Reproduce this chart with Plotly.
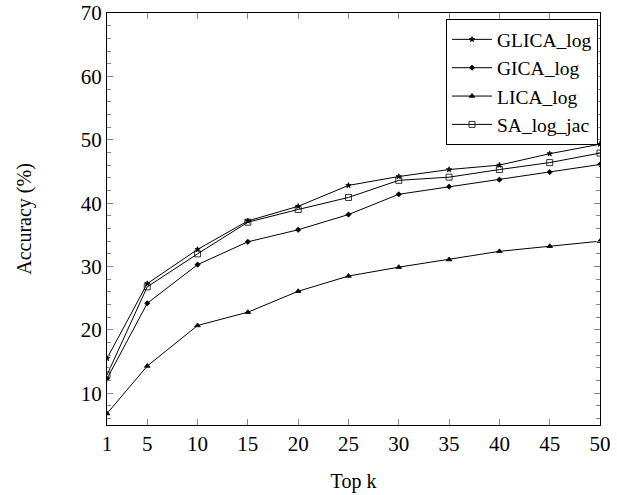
import plotly.graph_objects as go

top_k = [1, 5, 10, 15, 20, 25, 30, 35, 40, 45, 50]
glica_log = [15.5, 27.3, 32.7, 37.2, 39.5, 42.8, 44.2, 45.3, 46.0, 47.8, 49.3]
gica_log = [12.3, 24.2, 30.3, 33.9, 35.8, 38.2, 41.4, 42.6, 43.7, 44.9, 46.1]
lica_log = [6.8, 14.3, 20.7, 22.8, 26.1, 28.5, 29.9, 31.1, 32.4, 33.2, 34.0]
sa_log_jac = [12.9, 26.8, 32.0, 37.0, 39.0, 40.9, 43.6, 44.1, 45.3, 46.4, 47.9]

series = [
    ("GLICA_log", glica_log, "star", 4),
    ("GICA_log", gica_log, "diamond", 4),
    ("LICA_log", lica_log, "triangle-up", 5),
    ("SA_log_jac", sa_log_jac, "square-open", 6),
]

fig = go.Figure()
for name, vals, sym, sz in series:
    fig.add_trace(go.Scatter(
        x=top_k, y=vals, name=name, mode="lines+markers",
        line=dict(color="black", width=1),
        marker=dict(symbol=sym, size=sz, color="black",
                    line=dict(color="black", width=0.8)),
    ))

font_family = "Liberation Serif, Times New Roman, serif"
fig.update_layout(
    width=617, height=495,
    margin=dict(l=107, r=17, t=13, b=70, autoexpand=False),
    paper_bgcolor="white", plot_bgcolor="white",
    font=dict(family=font_family, size=20, color="black"),
    legend=dict(x=0.996, y=0.985, xanchor="right", yanchor="top",
                bordercolor="black", borderwidth=1, bgcolor="white",
                font=dict(size=19.5), tracegroupgap=0, itemwidth=40),
    showlegend=True,
)
fig.update_xaxes(
    range=[1, 50], tickvals=top_k, ticktext=[str(v) for v in top_k],
    showline=True, linecolor="black", linewidth=1, mirror="ticks",
    ticks="inside", ticklen=6, tickcolor="#888", showgrid=False, zeroline=False,
    tickfont=dict(size=21), automargin=False,
    title=dict(text="Top k", font=dict(size=20), standoff=18),
)
fig.update_yaxes(
    range=[5, 70], tickvals=[10, 20, 30, 40, 50, 60, 70],
    showline=True, linecolor="black", linewidth=1, mirror="ticks",
    ticks="inside", ticklen=6, tickcolor="#888", showgrid=False, zeroline=False,
    tickfont=dict(size=21), automargin=False,
    minor=dict(tickvals=[v for v in range(6, 70, 2) if v % 10 != 0],
               ticks="inside", ticklen=4, tickcolor="#888"),
    title=dict(text="Accuracy (%)", font=dict(size=20), standoff=43),
)

fig.write_html(
    "out.html",
    config={"displayModeBar": False},
    post_script="document.body.style.margin='0';document.body.style.overflow='hidden';",
)
